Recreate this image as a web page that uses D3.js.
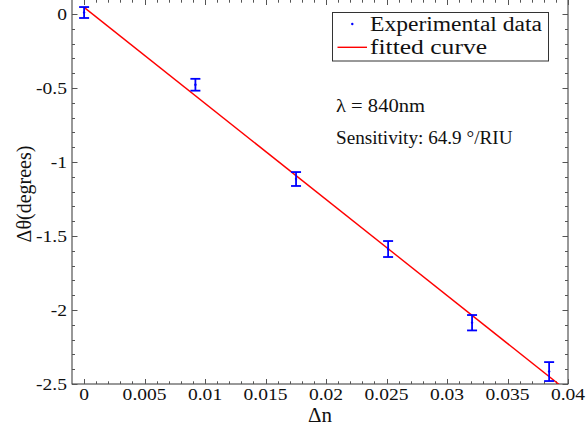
<!DOCTYPE html>
<html>
<head>
<meta charset="utf-8">
<script src="https://cdn.jsdelivr.net/npm/d3@7"></script>
<style>
  html, body { margin: 0; padding: 0; background: #fff; }
  svg { display: block; }
  svg text { font-family: "Liberation Serif"; }
</style>
</head>
<body>
<svg id="chart" width="587" height="432"></svg>
<script>
// Measured refractive-index change vs. resonance angle shift
const deltaN      = [0, 0.0092, 0.01752, 0.02513, 0.03207, 0.03844];
const deltaTheta  = [0.01, -0.478, -1.115, -1.588, -2.086, -2.416];
const errHalf     = [0.037, 0.040, 0.047, 0.054, 0.052, 0.064];

// Linear fit parameters (degrees per RIU, offset in degrees)
const fitSlope     = -64.9;
const fitIntercept = 0.045;
const fitRange     = [0, 0.04];

const xTickValues = [0, 0.005, 0.01, 0.015, 0.02, 0.025, 0.03, 0.035, 0.04];
const xTickLabels = ["0", "0.005", "0.01", "0.015", "0.02", "0.025", "0.03", "0.035", "0.04"];
const yTickValues = [0, -0.5, -1, -1.5, -2, -2.5];
const yTickLabels = ["0", "-0.5", "-1", "-1.5", "-2", "-2.5"];

const legendLabels = ["Experimental data", "fitted curve"];
const noteLines    = ["\u03bb = 840nm", "Sensitivity: 64.9 \u00b0/RIU"];

const svg = d3.select("#chart");
const plot = { left: 72, right: 568, top: -0.8, bottom: 384 };

const x = d3.scaleLinear().domain([-0.001, 0.04]).range([plot.left, plot.right]);
const y = d3.scaleLinear().domain([-2.5, 0.1]).range([plot.bottom, plot.top]);

// stretch text horizontally by a factor
function widen(sel, k) {
  sel.each(function () {
    const len = this.getComputedTextLength();
    d3.select(this).attr("textLength", len * k).attr("lengthAdjust", "spacingAndGlyphs");
  });
}
// fit text to a given horizontal extent
function fitWidth(sel, w) {
  sel.attr("textLength", w).attr("lengthAdjust", "spacingAndGlyphs");
}

svg.append("clipPath").attr("id", "plotClip")
  .append("rect")
  .attr("x", plot.left).attr("y", plot.top)
  .attr("width", plot.right - plot.left).attr("height", plot.bottom - plot.top);

// frame
svg.append("rect")
  .attr("x", plot.left).attr("y", plot.top)
  .attr("width", plot.right - plot.left).attr("height", plot.bottom - plot.top)
  .attr("fill", "none").attr("stroke", "#333").attr("stroke-width", 1);

// inward ticks on all four sides
const xMinor = d3.range(0, 41).map(i => i * 0.001);
const yMinor = d3.range(0, 26).map(i => -i * 0.1).concat([0.1]);
const tickColor = "#555";
const ticks = svg.append("g").attr("stroke", tickColor).attr("stroke-width", 1);

xMinor.forEach(v => {
  const major = xTickValues.some(t => Math.abs(t - v) < 1e-9);
  const len = major ? 5 : 2.7;
  const px = Math.round(x(v)) + 0.5;
  ticks.append("line").attr("x1", px).attr("x2", px).attr("y1", plot.bottom).attr("y2", plot.bottom - len);
  ticks.append("line").attr("x1", px).attr("x2", px).attr("y1", plot.top).attr("y2", plot.top + len + 0.8);
});
yMinor.forEach(v => {
  const major = yTickValues.some(t => Math.abs(t - v) < 1e-9);
  const len = major ? 5.5 : 3;
  const py = Math.round(y(v)) + 0.5;
  ticks.append("line").attr("y1", py).attr("y2", py).attr("x1", plot.left).attr("x2", plot.left + len);
  ticks.append("line").attr("y1", py).attr("y2", py).attr("x1", plot.right).attr("x2", plot.right - len);
});

// tick labels
svg.append("g").selectAll("text").data(xTickValues).join("text")
  .attr("x", d => x(d)).attr("y", 400)
  .attr("text-anchor", "middle").attr("font-size", 16).attr("fill", "#111")
  .text((d, i) => xTickLabels[i])
  .call(widen, 1.22);

svg.append("g").selectAll("text").data(yTickValues).join("text")
  .attr("x", 67).attr("y", d => y(d) + 5.5)
  .attr("text-anchor", "end").attr("font-size", 16).attr("fill", "#111")
  .text((d, i) => yTickLabels[i])
  .call(widen, 1.22);

// axis titles
svg.append("text")
  .attr("x", (plot.left + plot.right) / 2).attr("y", 422)
  .attr("text-anchor", "middle").attr("font-size", 21).attr("fill", "#111")
  .text("\u0394n");

svg.append("text")
  .attr("transform", `translate(31,194) rotate(-90)`)
  .attr("text-anchor", "middle").attr("font-size", 20).attr("fill", "#111")
  .text("\u0394\u03b8(degrees)");

// fitted line
const fitLine = d3.line().x(d => x(d)).y(d => y(fitIntercept + fitSlope * d));
svg.append("path")
  .datum(fitRange)
  .attr("clip-path", "url(#plotClip)")
  .attr("d", fitLine)
  .attr("fill", "none").attr("stroke", "#ff0000").attr("stroke-width", 1.4);

// error bars and points
const pts = deltaN.map((d, i) => ({ xv: d, yv: deltaTheta[i], e: errHalf[i] }));
const eb = svg.append("g").attr("stroke", "#0000ff").attr("stroke-width", 1.8).attr("fill", "none");
const cap = 5;
pts.forEach(p => {
  const cx = x(p.xv);
  const y0 = y(p.yv + p.e), y1 = y(p.yv - p.e);
  eb.append("line").attr("x1", cx).attr("x2", cx).attr("y1", y0).attr("y2", y1);
  eb.append("line").attr("x1", cx - cap).attr("x2", cx + cap).attr("y1", y0).attr("y2", y0);
  eb.append("line").attr("x1", cx - cap).attr("x2", cx + cap).attr("y1", y1).attr("y2", y1);
});
svg.append("g").selectAll("circle").data(pts).join("circle")
  .attr("cx", d => x(d.xv)).attr("cy", d => y(d.yv)).attr("r", 1.2)
  .attr("fill", "#0000ff");

// legend
const lg = svg.append("g");
lg.append("rect")
  .attr("x", 332.5).attr("y", 12.5).attr("width", 216).attr("height", 48.5)
  .attr("fill", "#fff").attr("stroke", "#333").attr("stroke-width", 1);
lg.append("circle").attr("cx", 352.3).attr("cy", 24).attr("r", 1.2).attr("fill", "#0000ff");
lg.append("line").attr("x1", 337.5).attr("x2", 367).attr("y1", 47.3).attr("y2", 47.3)
  .attr("stroke", "#ff0000").attr("stroke-width", 1.4);
lg.append("text").attr("x", 370).attr("y", 31).attr("font-size", 20.5).attr("fill", "#111")
  .text(legendLabels[0]).call(fitWidth, 172);
lg.append("text").attr("x", 370).attr("y", 54).attr("font-size", 20.5).attr("fill", "#111")
  .text(legendLabels[1]).call(fitWidth, 117);

// annotations
svg.append("text").attr("x", 336).attr("y", 111.7).attr("font-size", 18).attr("fill", "#111")
  .text(noteLines[0]).call(fitWidth, 89);
svg.append("text").attr("x", 336).attr("y", 144.3).attr("font-size", 18).attr("fill", "#111")
  .text(noteLines[1]).call(fitWidth, 176.5);
</script>
</body>
</html>
